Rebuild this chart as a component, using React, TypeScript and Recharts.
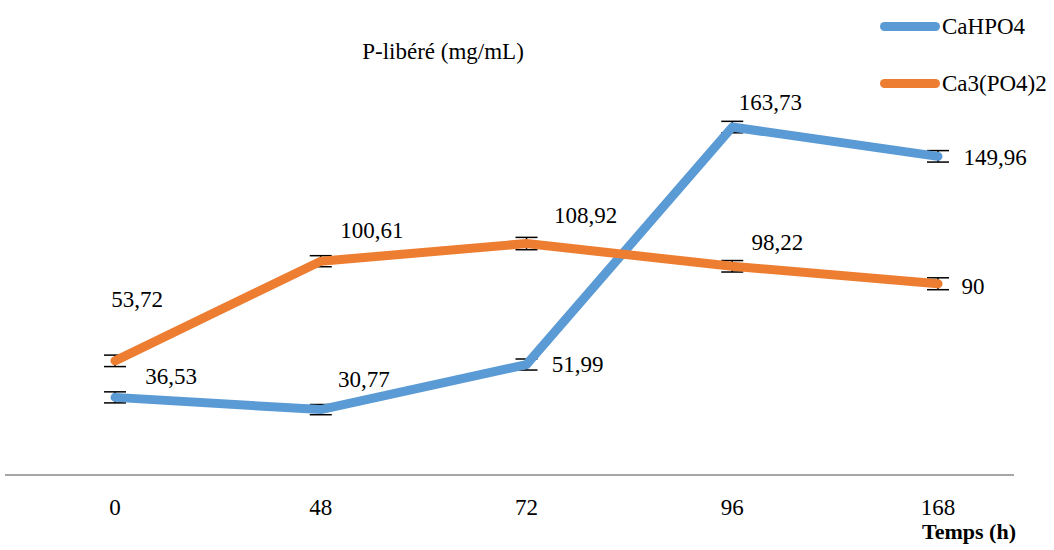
import { ErrorBar, LabelList, Line, LineChart, XAxis, YAxis } from "recharts";

const hours = ["0", "48", "72", "96", "168"];
const caHPO4 = [36.53, 30.77, 51.99, 163.73, 149.96];
const caHPO4Err = [2.6, 2.4, 2.6, 2.7, 2.7];
const ca3PO42 = [53.72, 100.61, 108.92, 98.22, 90];
const ca3PO42Err = [2.7, 2.6, 2.9, 2.7, 2.8];

const BLUE = "#5b9bd5";
const ORANGE = "#ed7d31";
const FONT = "Liberation Serif";
const FS = 23;

// label offsets from each point (text centre), per series
const blueOffsets = [
  [56, -21],
  [43, -30],
  [51, 0],
  [38, -25],
  [57, 1],
];
const orangeOffsets = [
  [22, -61],
  [51, -31],
  [59, -28],
  [45, -24],
  [35, 3],
];

const data = hours.map((h, i) => ({
  h,
  a: caHPO4[i],
  aErr: caHPO4Err[i],
  b: ca3PO42[i],
  bErr: ca3PO42Err[i],
}));

const fmt = (v: number) => String(v).replace(".", ",");

const makeLabel =
  (offsets: number[][]) =>
  (props: any) => {
    const { x, y, value, index } = props;
    const [dx, dy] = offsets[index] ?? [0, -20];
    return (
      <text
        x={x + dx}
        y={y + dy}
        textAnchor="middle"
        dominantBaseline="central"
        fontFamily={FONT}
        fontSize={FS}
        fill="#000"
      >
        {fmt(value)}
      </text>
    );
  };

const legendItems = [
  { name: "CaHPO4", color: BLUE },
  { name: "Ca3(PO4)2", color: ORANGE },
];

function LegendBox() {
  return (
    <div
      style={{
        position: "absolute",
        left: 880,
        top: -2,
        fontFamily: `"${FONT}"`,
        fontSize: FS,
        color: "#000",
      }}
    >
      {legendItems.map((it) => (
        <div key={it.name} style={{ display: "flex", alignItems: "center", height: 57 }}>
          <span
            style={{
              display: "inline-block",
              width: 60,
              height: 9,
              borderRadius: 5,
              background: it.color,
              marginRight: 2,
            }}
          />
          <span>{it.name}</span>
        </div>
      ))}
    </div>
  );
}

export default function App() {
  return (
    <div
      style={{
        position: "absolute",
        left: 0,
        top: 0,
        width: 1054,
        height: 550,
        background: "#fff",
      }}
    >
      <LineChart
        width={1054}
        height={550}
        data={data}
        margin={{ top: 50, right: 40, bottom: 45, left: 5 }}
      >
        <XAxis
          dataKey="h"
          padding={{ left: 110, right: 76 }}
          axisLine={{ stroke: "#a6a6a6", strokeWidth: 2 }}
          tickLine={false}
          tickMargin={18}
          tick={{ fontSize: FS, fill: "#000", fontFamily: FONT }}
          label={{
            content: () => (
              <text
                x={969}
                y={539}
                textAnchor="middle"
                fontFamily={FONT}
                fontSize={22}
                fontWeight="bold"
                fill="#000"
              >
                Temps (h)
              </text>
            ),
          }}
        />
        <YAxis hide domain={[0, 200]} />
        <Line
          dataKey="a"
          name="CaHPO4"
          stroke={BLUE}
          strokeWidth={9}
          strokeLinecap="round"
          strokeLinejoin="round"
          dot={false}
          activeDot={false}
          isAnimationActive={false}
        >
          <ErrorBar dataKey="aErr" width={11} stroke="#000" strokeWidth={1.5} direction="y" />
          <LabelList dataKey="a" content={makeLabel(blueOffsets)} />
        </Line>
        <Line
          dataKey="b"
          name="Ca3(PO4)2"
          stroke={ORANGE}
          strokeWidth={9}
          strokeLinecap="round"
          strokeLinejoin="round"
          dot={false}
          activeDot={false}
          isAnimationActive={false}
        >
          <ErrorBar dataKey="bErr" width={11} stroke="#000" strokeWidth={1.5} direction="y" />
          <LabelList dataKey="b" content={makeLabel(orangeOffsets)} />
        </Line>
      </LineChart>
      <div
        style={{
          position: "absolute",
          left: 443,
          top: 52,
          transform: "translate(-50%, -50%)",
          fontFamily: `"${FONT}"`,
          fontSize: FS,
          whiteSpace: "nowrap",
          color: "#000",
        }}
      >
        P-libéré (mg/mL)
      </div>
      <LegendBox />
    </div>
  );
}
